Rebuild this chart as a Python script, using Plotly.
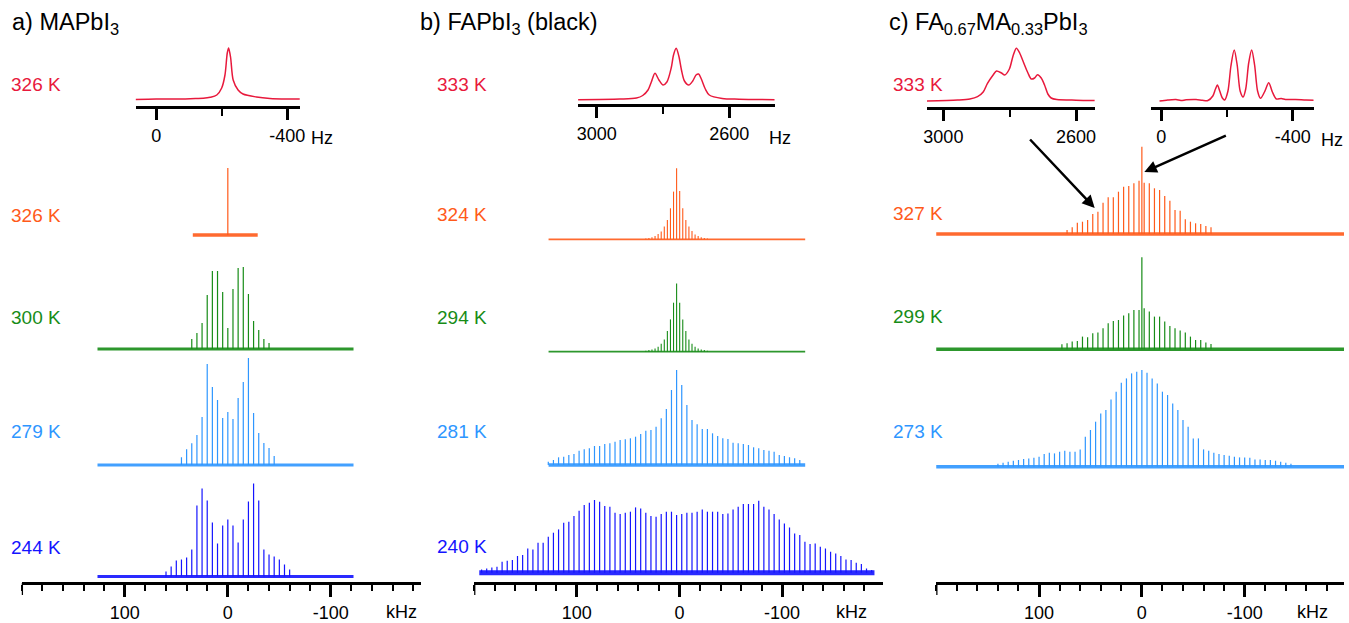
import plotly.graph_objects as go

W, H = 1349, 623
FONT = "Liberation Sans, Arial, sans-serif"
RED, ORANGE, GREEN, LBLUE, BLUE = "#e8193c", "#ff5a1a", "#178c17", "#2e96ff", "#1414ff"

# ---------------- data ----------------
# Spinning-sideband spectra: heights listed from highest to lowest frequency (kHz).
# Panel a) MAPbI3 (centre 0 kHz, 5 kHz spacing)
a326_h = [67]
a300_h = [10, 16, 26, 54, 78, 78, 57, 21, 60, 81, 82, 55, 28, 19, 10, 6]
a279_h = [7.7, 15.7, 21.7, 30, 48, 101, 78, 65, 47, 53, 46, 67, 83, 107, 52, 32, 22, 17, 9]
a244_h = [5, 10, 16, 17, 19, 27, 71, 88, 76, 54, 33, 51, 57, 51, 34, 57, 75, 93, 76, 27, 22, 20, 17, 12, 7]
a_first = {"326": 0, "300": 7, "279": 9, "244": 12}      # index of first listed sideband
a_center, a_spin = 0.0, 5.0

# Panel b) FAPbI3 (centre 2.76 kHz)
b324_h = [0.7, 1.3, 2, 3.3, 5.3, 7.7, 12.7, 19.3, 31, 47.7, 71,
          48.3, 31, 19.3, 12.7, 8.3, 4.7, 3.3, 2, 1.3, 0.7]
b294_h = [1, 1.7, 2.3, 3.3, 5, 8, 12.3, 20.7, 32.3, 49, 68.3,
          49, 32.3, 20.7, 12.3, 8, 5, 3.3, 2.3, 1.7, 1]
b281_h = [3.3, 5, 7.7, 8.3, 10, 11, 14.3, 15.7, 16.7, 19, 19, 21, 21.7, 23.3, 25, 25.7, 26.7, 28.3,
          31, 34.3, 35, 38.3, 46.7, 56, 75, 95,
          80, 60, 45, 40.7, 36, 36, 31.7, 29, 26.7, 26, 22.3, 21.7, 21, 20, 17.7, 16.7, 15, 14.3,
          13.3, 10, 9, 7.7, 6.7, 5]
b240_h = [3.3, 4.3, 5.3, 6, 11, 12, 12.7, 16.7, 17.7, 24.3, 23.3, 30, 30, 36, 40, 43.3, 50, 51, 56.7,
          62, 67.7, 70, 72.7, 71, 66.7, 66, 60, 58.7, 60, 61, 65.3, 64.3, 60, 56.7, 56, 58.7, 61, 61,
          57.7, 58.7, 60, 60, 61, 63.3, 61, 61, 61, 58.7, 59.3, 63.3, 66, 68.7, 68.7, 68.7, 72, 66,
          63.3, 58.7, 53.3, 49.3, 45.3, 39.3, 37.7, 31, 28.7, 29.3, 26, 24.3, 21, 19.3, 16.7, 13.3,
          12.7, 10, 8.7, 4.3, 2.7]
b_first = {"324": 10, "294": 10, "281": 25, "240": 38}
b_center = 2.76
b_spin = {"324": 3.0, "294": 3.0, "281": 5.0, "240": 5.0}

# Panel c) FA0.67MA0.33PbI3 (FA sidebands at 2.76 kHz + MA centre line at 0 kHz)
c327_fa_h = [4, 6.7, 11.3, 12.3, 14, 20, 22.3, 31.3, 36.7, 36.7, 42.3, 47.3, 48, 50.7, 53.3,
             51.3, 50.7, 45.7, 44, 38, 33.3, 24, 23.3, 14.7, 12.3, 10.7, 10, 8, 6.7]
c327_ma_h = [87.3]
c299_fa_h = [5, 6, 7.7, 8.3, 12.7, 12, 16, 16.7, 21, 26, 28.3, 29.3, 33.7, 36, 39.3, 39.3,
             41, 37.7, 32.7, 32.7, 27.7, 23.3, 21, 18.7, 16.7, 12.7, 9.3, 9.3, 6.7, 5.3]
c299_ma_h = [92]
c273_h = [3, 4, 5, 6, 6.7, 7.7, 8.3, 9, 10, 12.7, 14, 13.3, 15, 16, 15, 15, 17.3, 30, 36.7, 45,
          53.3, 56.7, 67.3, 75, 84, 88.3, 93.3, 95, 96.7,
          94, 88.3, 83.3, 75, 71.7, 63.3, 56.7, 46.7, 40, 28.3, 28.3, 17.3, 16, 14, 12.7, 11.7,
          11, 10, 9.3, 9.3, 9, 7.3, 7.3, 6.7, 6.7, 6, 5, 4, 3]
c_first = {"327fa": 14, "327ma": 0, "299fa": 15, "299ma": 0, "273": 28}
c_center = {"fa": 2.76, "ma": 0.0, "273": 0.0}
c_spin = 5.0

# spectral extents (kHz) of each trace
span_a326 = (34, -29)
span_a = (126.5, -122)
span_b = (127.5, -122.5)
span_b240 = (195, -190)
span_c = (201, -199)

# Insets: high-resolution centre bands (Hz, intensity)
ia_hz = [70, 0, -60, -120, -144, -165, -185, -200, -210, -217, -221, -227, -235, -250, -265, -306, -347, -400, -456]
ia_y = [0.5, 1, 1, 1.5, 1.7, 2.7, 5, 12, 25, 47, 52, 43, 20, 10, 6, 3, 1.5, 1, 1]
ib_hz = [3071, 2930, 2880, 2861, 2845, 2835, 2824, 2812, 2800, 2788, 2775, 2768, 2760, 2752, 2744,
         2735, 2722, 2710, 2700, 2692, 2684, 2672, 2660, 2621, 2570, 2450]
ib_y = [0.3, 1, 2, 4.5, 10, 18, 26.7, 20, 15, 18, 32, 45, 51.7, 44, 30, 19, 15, 19, 25, 26, 21, 11, 5, 1.5, 0.8, 0.3]
ic1_hz = [3057, 2957, 2920, 2897, 2880, 2867, 2850, 2840, 2825, 2815, 2801, 2790, 2780, 2770, 2760,
          2745, 2735, 2725, 2716, 2705, 2695, 2685, 2675, 2658, 2600, 2544]
ic1_y = [0, 1, 2, 4.3, 9, 17.7, 26, 30, 28, 26, 32, 45, 52.7, 48, 40, 28, 22, 23, 26.3, 23, 16, 7, 3, 1.5, 0.8, 0.5]
ic2_hz = [5, -20, -45, -60, -76, -106, -125, -142, -157, -165, -171, -178, -186, -193, -203, -212,
          -222, -231, -240, -249, -257, -266, -275, -284, -293, -302, -314, -327, -338, -350, -365,
          -378, -408, -440, -465]
ic2_y = [0, 1, 1.5, 0.5, 1.2, 1.5, 0.8, 0.5, 5, 12, 16, 10, 3, 1, 10, 35, 51, 36, 10, 4, 12, 38, 51,
         36, 10, 2.7, 9, 18.3, 9, 2, 2.5, 1.5, 1.5, 1, 0.8]

# ---------------- layout helpers (pixel positions) ----------------
def py(px):  # pixel row -> y data value (1 unit = 1 px, bottom = 0)
    return H - px

def fx(px):
    return px / W

def fy(px):
    return 1 - px / H

traces = []

def add_sticks(xaxis, center, spin, first, heights, base_px, span, color, lw=1.2, bw=3):
    base = py(base_px)
    if span is not None:
        traces.append(go.Scatter(x=[span[0], span[1]], y=[base, base], mode="lines",
                                 line=dict(color=color, width=bw), opacity=0.9, xaxis=xaxis, yaxis="y",
                                 hoverinfo="skip", showlegend=False))
    xs, ys = [], []
    for i, h in enumerate(heights):
        pos = center + spin * (first - i)
        xs += [pos, pos, None]
        ys += [base, base + h, None]
    traces.append(go.Scatter(x=xs, y=ys, mode="lines", line=dict(color=color, width=lw),
                             xaxis=xaxis, yaxis="y", hoverinfo="skip", showlegend=False))

def add_inset(xaxis, hz, inten, base_px, color):
    base = py(base_px)
    traces.append(go.Scatter(x=hz, y=[base + v for v in inten], mode="lines",
                             line=dict(color=color, width=1.5, shape="spline", smoothing=0.8),
                             xaxis=xaxis, yaxis="y", hoverinfo="skip", showlegend=False))

# panel a
add_sticks("x", a_center, a_spin, a_first["326"], a326_h, 235, span_a326, ORANGE, bw=3.5)
add_sticks("x", a_center, a_spin, a_first["300"], a300_h, 349, span_a, GREEN)
add_sticks("x", a_center, a_spin, a_first["279"], a279_h, 465, span_a, LBLUE)
add_sticks("x", a_center, a_spin, a_first["244"], a244_h, 576.5, span_a, BLUE)
# panel b
add_sticks("x2", b_center, b_spin["324"], b_first["324"], b324_h, 239.3, span_b, ORANGE, 1.1, 1.8)
add_sticks("x2", b_center, b_spin["294"], b_first["294"], b294_h, 351.7, span_b, GREEN, 1.1, 1.8)
add_sticks("x2", b_center, b_spin["281"], b_first["281"], b281_h, 465, span_b, LBLUE, 1.2, 3.5)
add_sticks("x2", b_center, b_spin["240"], b_first["240"], b240_h, 572.7, span_b240, BLUE, 1.2, 5)
# panel c
add_sticks("x3", c_center["fa"], c_spin, c_first["327fa"], c327_fa_h, 234, span_c, ORANGE, 1.2, 3.5)
add_sticks("x3", c_center["ma"], c_spin, c_first["327ma"], c327_ma_h, 234, None, ORANGE)
add_sticks("x3", c_center["fa"], c_spin, c_first["299fa"], c299_fa_h, 349.3, span_c, GREEN, 1.2, 3.5)
add_sticks("x3", c_center["ma"], c_spin, c_first["299ma"], c299_ma_h, 349.3, None, GREEN)
add_sticks("x3", c_center["273"], c_spin, c_first["273"], c273_h, 466.7, span_c, LBLUE, 1.2, 3.5)
# insets
add_inset("x4", ia_hz, ia_y, 100, RED)
add_inset("x5", ib_hz, ib_y, 100, RED)
add_inset("x6", ic1_hz, ic1_y, 101, RED)
add_inset("x7", ic2_hz, ic2_y, 101, RED)

fig = go.Figure(traces)

tickfont = dict(family=FONT, size=18, color="black")
AXIS_PX = 583

def main_axis(d0, d1, r0, r1):
    return dict(domain=[fx(d0), fx(d1)], range=[r0, r1], anchor="free", position=(H - AXIS_PX) / H,
                showline=True, linewidth=3, linecolor="black", ticks="outside", ticklen=12,
                tickwidth=2.5, tickcolor="black", tickmode="array",
                tickvals=[100, 0, -100], ticktext=["100", "0", "-100"],
                tickfont=tickfont, showgrid=False, zeroline=False, fixedrange=True,
                minor=dict(ticks="outside", dtick=20, tick0=0, ticklen=6, tickwidth=2,
                           tickcolor="black", showgrid=False))

def inset_axis(d0, d1, r0, r1, pos_px, vals, texts, minor_vals):
    return dict(domain=[fx(d0), fx(d1)], range=[r0, r1], anchor="free", position=(H - pos_px) / H,
                showline=True, linewidth=3, linecolor="black", ticks="outside", ticklen=11,
                tickwidth=2.5, tickcolor="black", tickmode="array", tickvals=vals,
                ticktext=texts, tickfont=tickfont,
                showgrid=False, zeroline=False, fixedrange=True,
                minor=dict(ticks="outside", tickmode="array", tickvals=minor_vals, ticklen=7,
                           tickwidth=2, tickcolor="black", showgrid=False))

# unlabeled major tick at 200 kHz on each main axis
shapes = []
for ax in ["x", "x2", "x3"]:
    shapes.append(dict(type="line", xref=ax, yref="paper", x0=200, x1=200,
                       y0=fy(AXIS_PX), y1=fy(AXIS_PX + 12),
                       line=dict(color="black", width=2.5)))

annotations = []

def label(text, x_px, y_px, color, size=19, xanchor="left"):
    annotations.append(dict(text=text, x=fx(x_px), y=fy(y_px), xref="paper", yref="paper",
                            xanchor=xanchor, yanchor="middle", showarrow=False,
                            font=dict(family=FONT, size=size, color=color)))

# titles
label("a) MAPbI<sub>3</sub>", 6, 23, "black", 23.5)
label("b) FAPbI<sub>3</sub> (black)", 417, 23, "black", 23.5)
label("c) FA<sub>0.67</sub>MA<sub>0.33</sub>PbI<sub>3</sub>", 889, 23, "black", 23.5)
# temperatures
for t, y, c in [("326 K", 85, RED), ("326 K", 215, ORANGE), ("300 K", 317, GREEN),
                ("279 K", 431, LBLUE), ("244 K", 547, BLUE)]:
    label(t, 5, y, c)
for t, y, c in [("333 K", 85, RED), ("324 K", 214, ORANGE), ("294 K", 317, GREEN),
                ("281 K", 431, LBLUE), ("240 K", 546, BLUE)]:
    label(t, 434, y, c)
for t, y, c in [("333 K", 85, RED), ("327 K", 213, ORANGE), ("299 K", 316, GREEN),
                ("273 K", 431, LBLUE)]:
    label(t, 893, y, c)
# units
label("kHz", 400, 612, "black", 18, "center")
label("kHz", 853, 612, "black", 18, "center")
label("kHz", 1317, 612, "black", 18, "center")
label("Hz", 320, 138, "black", 18, "center")
label("Hz", 781, 138, "black", 18, "center")
label("Hz", 1337, 140, "black", 18, "center")

# arrows
for (hx, hy, tx, ty) in [(1098, 208, 1032, 138), (1148, 172, 1231, 135)]:
    annotations.append(dict(x=fx(hx), y=fy(hy), xref="paper", yref="paper", ax=tx - hx, ay=ty - hy,
                            axref="pixel", ayref="pixel", showarrow=True, arrowhead=2,
                            arrowsize=1, arrowwidth=2.5, arrowcolor="black", text=""))

fig.update_layout(
    width=W, height=H, margin=dict(l=0, r=0, t=0, b=0),
    paper_bgcolor="white", plot_bgcolor="rgba(0,0,0,0)", showlegend=False,
    font=dict(family=FONT),
    yaxis=dict(domain=[0, 1], range=[0, H], visible=False, fixedrange=True),
    xaxis=main_axis(17.9, 420, 200, -187.7),
    xaxis2=main_axis(473.3, 885, 200, -198.4),
    xaxis3=main_axis(938.5, 1349, 200, -196.6),
    xaxis4=inset_axis(132.7, 297.7, 62, -438, 107.3, [0, -400], ["0", "-400"], [-200]),
    xaxis5=inset_axis(578, 775.7, 3056, 2463, 105, [3000, 2600], ["3000", "2600"], [2800]),
    xaxis6=inset_axis(929.3, 1098.3, 3049, 2543, 108.3, [3000, 2600], ["3000", "2600"], [2800]),
    xaxis7=inset_axis(1155, 1318.3, 30, -463, 108.3, [0, -400], ["0", "-400"], [-200]),
    annotations=annotations,
    shapes=shapes,
)

fig.write_html("out.html")
